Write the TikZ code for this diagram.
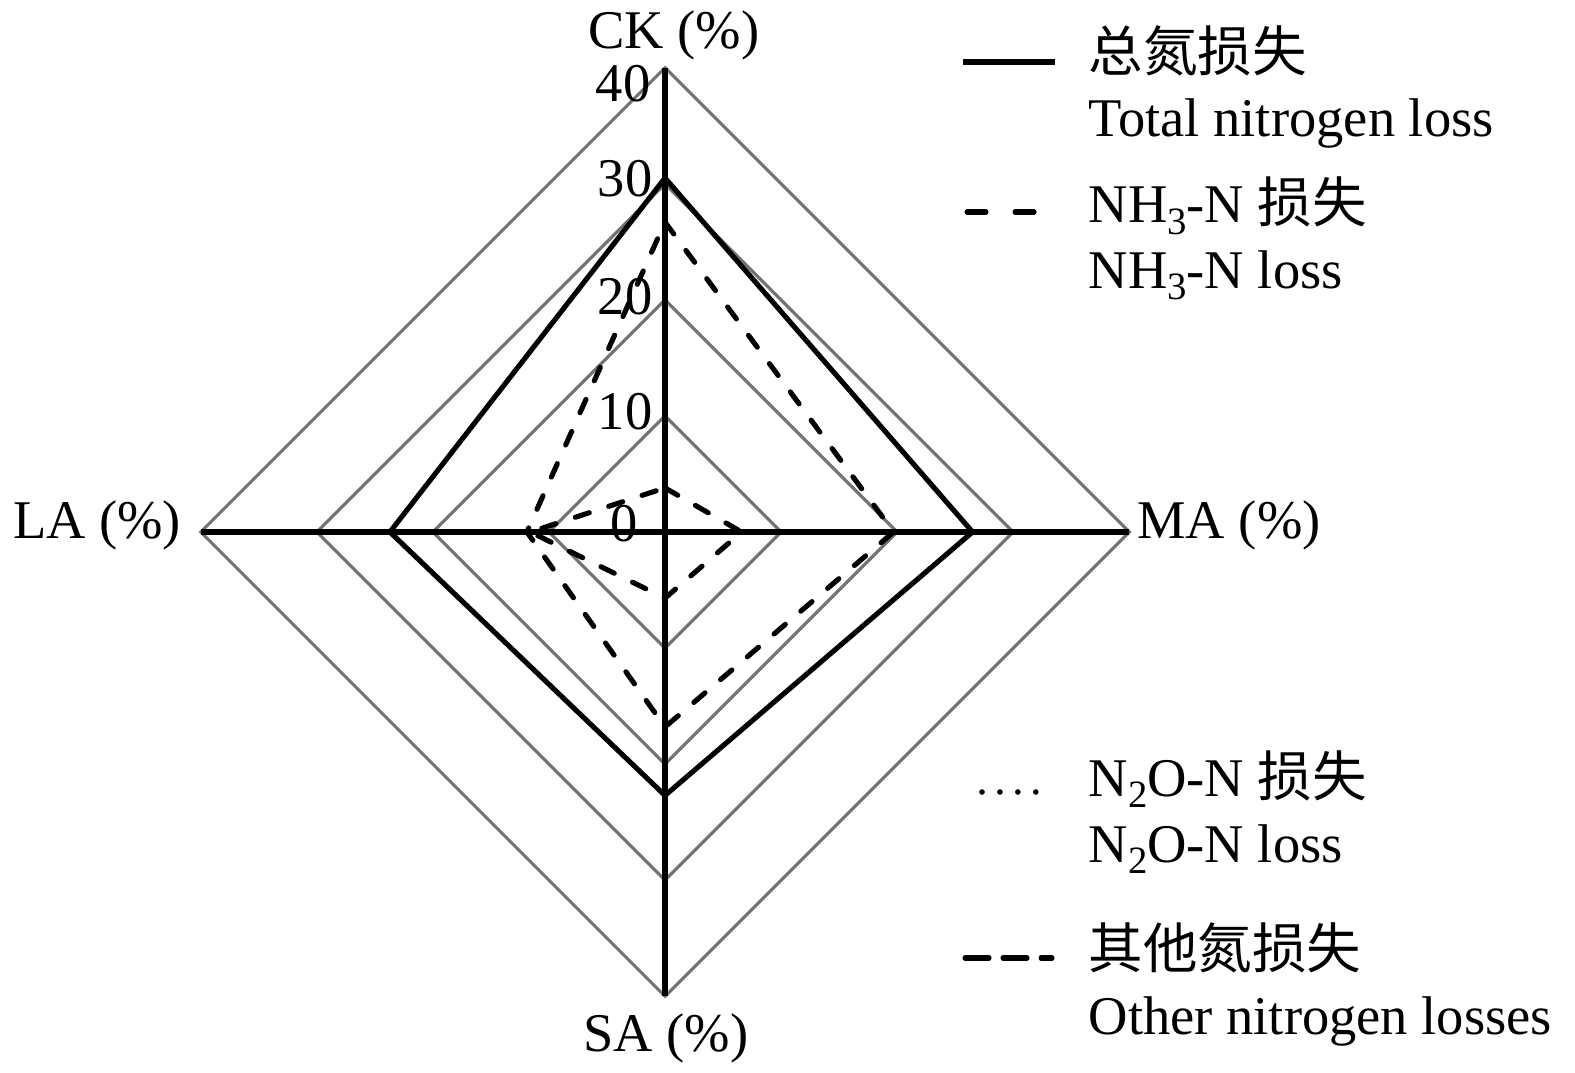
\documentclass[tikz,border=0pt]{standalone}
\usepackage{fontspec}
\setmainfont{Liberation Serif}
\newfontfamily\cjk{Noto Sans CJK SC}
\usetikzlibrary{positioning}

\newcommand{\lowsub}[1]{\raisebox{-0.45ex}{\fontsize{11}{11}\selectfont #1}}

\tikzset{
    gridline/.style={draw=black!55, line width=0.9pt, line join=miter},
    axisline/.style={draw=black, line width=1.6pt},
    totalline/.style={draw=black, line width=1.45pt, line join=miter},
    nhline/.style={draw=black, line width=1.45pt, line cap=round, dash pattern=on 4.2pt off 5.8pt},
    otherline/.style={draw=black, line width=1.45pt, line cap=round, dash pattern=on 4.2pt off 5.8pt},
    noline/.style={draw=black, line width=1.6pt, line cap=round, dash pattern=on 0pt off 5.1pt},
    lbl/.style={font=\fontsize{15.5}{18}\selectfont, inner sep=0pt},
}

\begin{document}
\begin{tikzpicture}[x=0.01cm, y=-0.01cm]
            \useasboundingbox (0,0) rectangle (1575,1073);

            \begin{scope}[shift={(665,532)}, x=0.116cm, y=0.116cm]
                \coordinate (ck) at (0, 40);
                \coordinate (ma) at (40, 0);
                \coordinate (sa) at (0, -40);
                \coordinate (la) at (-40, 0);

                \foreach \r in {10, 20, 30, 40}
                    \draw[gridline] (0, \r) -- (\r, 0) -- (0, -\r) -- (-\r, 0) -- cycle;

                \draw[axisline] (ck) -- (sa);
                \draw[axisline] (la) -- (ma);

                \draw[totalline] (0, 30.5) -- (26.5, 0) -- (0, -22.7) -- (-23.7, 0) -- cycle;
                \draw[nhline] (0, 26.7) -- (19.7, 0) -- (0, -16.8) -- (-11.9, 0) -- cycle;
                \draw[otherline] (0, 3.8) -- (6.6, 0) -- (0, -5.7) -- (-11.6, 0) -- cycle;
            \end{scope}

            \node[lbl] (cklab) at (674, 35) {CK (\%)};
            \node[lbl] (malab) at (1229, 525) {MA (\%)};
            \node[lbl] (salab) at (666, 1038) {SA (\%)};
            \node[lbl] (lalab) at (97, 525) {LA (\%)};

            \node[lbl, anchor=east] (t40) at (651, 84) {40};
            \node[lbl, anchor=east] (t30) at (653, 179) {30};
            \node[lbl, anchor=east] (t20) at (653, 297) {20};
            \node[lbl, anchor=east] (t10) at (653, 412) {10};
            \node[lbl, anchor=east] (t0) at (638, 524) {0};

            \coordinate (k1a) at (963, 62);
            \coordinate (k1b) at (1055, 62);
            \coordinate (k2a) at (967, 212);
            \coordinate (k2b) at (1040, 212);
            \coordinate (k3a) at (982, 792);
            \coordinate (k3b) at (1037, 792);
            \coordinate (k4a) at (965, 958);
            \coordinate (k4b) at (1052, 958);

            \draw[totalline] (k1a) -- (k1b);
            \draw[draw=black, line width=1.45pt, line cap=round, dash pattern=on 0.19cm off 0.29cm] (k2a) -- (k2b);
            \draw[noline] (k3a) -- (k3b);
            \draw[draw=black, line width=1.45pt, line cap=round, dash pattern=on 0.24cm off 0.14cm] (k4a) -- (k4b);

            \node[lbl, anchor=base west] (g1a) at (1088, 72) {\cjk 总氮损失};
            \node[lbl, anchor=base west] (g1b) at (1088, 137) {Total nitrogen loss};
            \node[lbl, anchor=base west] (g2a) at (1088, 223) {NH\lowsub{3}-N {\cjk 损失}};
            \node[lbl, anchor=base west] (g2b) at (1088, 288) {NH\lowsub{3}-N loss};
            \node[lbl, anchor=base west] (g3a) at (1088, 796) {N\lowsub{2}O-N {\cjk 损失}};
            \node[lbl, anchor=base west] (g3b) at (1088, 862) {N\lowsub{2}O-N loss};
            \node[lbl, anchor=base west] (g4a) at (1088, 968) {\cjk 其他氮损失};
            \node[lbl, anchor=base west] (g4b) at (1088, 1034) {Other nitrogen losses};
\end{tikzpicture}
\end{document}
